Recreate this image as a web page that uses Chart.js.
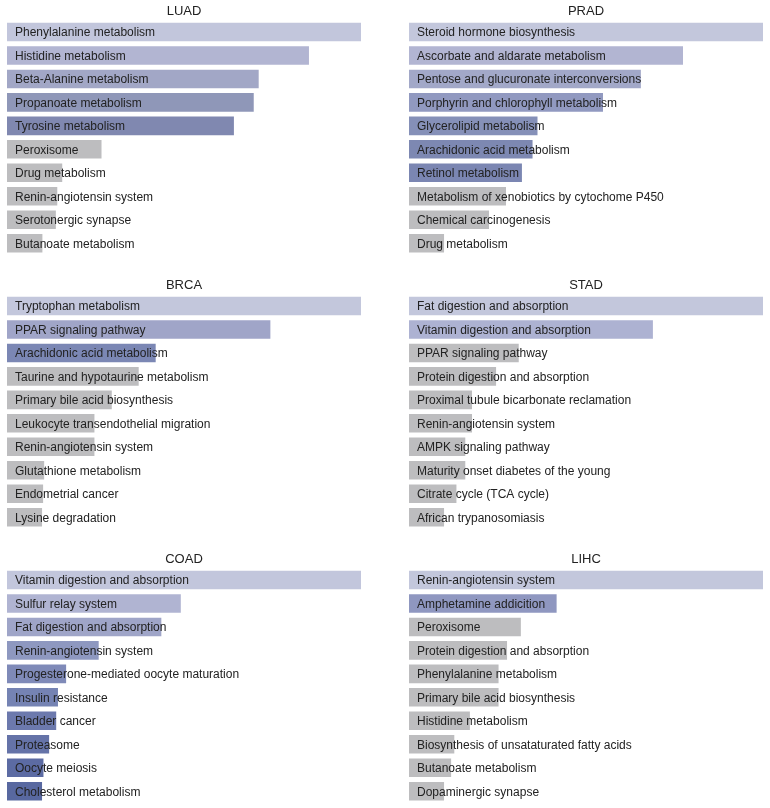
<!DOCTYPE html>
<html>
<head>
<meta charset="utf-8">
<script src="https://cdn.jsdelivr.net/npm/chart.js@4.4.1/dist/chart.umd.min.js"></script>
<style>
    html, body { margin: 0; padding: 0; background: #fff; }
    #wrap { position: relative; width: 770px; height: 808px; }
    .panel { position: absolute; width: 385px; height: 256px; }
</style>
</head>
<body>
<div id="wrap">
    <div class="panel" style="left:0;top:0"><canvas id="c0"></canvas></div>
    <div class="panel" style="left:385px;top:0"><canvas id="c1"></canvas></div>
    <div class="panel" style="left:0;top:274px"><canvas id="c2"></canvas></div>
    <div class="panel" style="left:385px;top:274px"><canvas id="c3"></canvas></div>
    <div class="panel" style="left:0;top:548px"><canvas id="c4"></canvas></div>
    <div class="panel" style="left:385px;top:548px"><canvas id="c5"></canvas></div>
</div>
<script>
// ---------- DATA ----------
const titles = ["LUAD", "PRAD", "BRCA", "STAD", "COAD", "LIHC"];

const luadLabels = ["Phenylalanine metabolism", "Histidine metabolism", "Beta-Alanine metabolism", "Propanoate metabolism", "Tyrosine metabolism", "Peroxisome", "Drug metabolism", "Renin-angiotensin system", "Serotonergic synapse", "Butanoate metabolism"];
const luadValues = [100, 85.3, 71.1, 69.7, 64.1, 26.7, 15.6, 14.2, 13.8, 10.0];

const pradLabels = ["Steroid hormone biosynthesis", "Ascorbate and aldarate metabolism", "Pentose and glucuronate interconversions", "Porphyrin and chlorophyll metabolism", "Glycerolipid metabolism", "Arachidonic acid metabolism", "Retinol metabolism", "Metabolism of xenobiotics by cytochome P450", "Chemical carcinogenesis", "Drug metabolism"];
const pradValues = [100, 77.4, 65.5, 54.8, 36.3, 34.9, 31.9, 27.4, 22.6, 9.9];

const brcaLabels = ["Tryptophan metabolism", "PPAR signaling pathway", "Arachidonic acid metabolism", "Taurine and hypotaurine metabolism", "Primary bile acid biosynthesis", "Leukocyte transendothelial migration", "Renin-angiotensin system", "Glutathione metabolism", "Endometrial cancer", "Lysine degradation"];
const brcaValues = [100, 74.4, 42.0, 37.2, 29.6, 24.7, 24.7, 10.5, 10.2, 9.9];

const stadLabels = ["Fat digestion and absorption", "Vitamin digestion and absorption", "PPAR signaling pathway", "Protein digestion and absorption", "Proximal tubule bicarbonate reclamation", "Renin-angiotensin system", "AMPK signaling pathway", "Maturity onset diabetes of the young", "Citrate cycle (TCA cycle)", "African trypanosomiasis"];
const stadValues = [100, 68.9, 31.0, 24.6, 17.8, 17.8, 15.9, 15.9, 13.4, 9.9];

const coadLabels = ["Vitamin digestion and absorption", "Sulfur relay system", "Fat digestion and absorption", "Renin-angiotensin system", "Progesterone-mediated oocyte maturation", "Insulin resistance", "Bladder cancer", "Proteasome", "Oocyte meiosis", "Cholesterol metabolism"];
const coadValues = [100, 49.1, 43.6, 25.9, 16.7, 14.4, 13.9, 11.9, 10.3, 9.9];

const lihcLabels = ["Renin-angiotensin system", "Amphetamine addicition", "Peroxisome", "Protein digestion and absorption", "Phenylalanine metabolism", "Primary bile acid biosynthesis", "Histidine metabolism", "Biosynthesis of unsataturated fatty acids", "Butanoate metabolism", "Dopaminergic synapse"];
const lihcValues = [100, 41.7, 31.6, 27.7, 25.3, 25.3, 17.2, 12.8, 11.9, 9.9];

const G = "#bdbdbf";
const luadColors = ["#c2c6dc", "#b2b5d2", "#a2a7c6", "#8f97b8", "#8088b0", G, G, G, G, G];
const pradColors = ["#c3c7dc", "#b2b5d2", "#a2a8c8", "#9199c0", "#8590b8", "#7d88b2", "#7b86b2", G, G, G];
const brcaColors = ["#c3c7dc", "#a0a5c8", "#7b87b4", G, G, G, G, G, G, G];
const stadColors = ["#c3c7dc", "#adb2d2", G, G, G, G, G, G, G, G];
const coadColors = ["#c2c6dc", "#b0b4d2", "#9fa5c8", "#8e98c0", "#7f8ab8", "#7583b3", "#6c79ad", "#6573a8", "#5c6ba3", "#5868a0"];
const lihcColors = ["#c3c7dc", "#8f97c0", G, G, G, G, G, G, G, G];

const panels = [
    [luadLabels, luadValues, luadColors],
    [pradLabels, pradValues, pradColors],
    [brcaLabels, brcaValues, brcaColors],
    [stadLabels, stadValues, stadColors],
    [coadLabels, coadValues, coadColors],
    [lihcLabels, lihcValues, lihcColors]
];

// pathway names drawn inside the bars, starting at the zero line
const insideLabels = {
    id: "insideLabels",
    afterDatasetsDraw(chart) {
        const ctx = chart.ctx;
        const meta = chart.getDatasetMeta(0);
        const x0 = chart.scales.x.getPixelForValue(0);
        ctx.save();
        ctx.font = '12px "Liberation Sans", Arial, sans-serif';
        ctx.fillStyle = "#222";
        ctx.textBaseline = "middle";
        meta.data.forEach((bar, i) => {
            ctx.fillText(chart.data.labels[i], x0 + 8, bar.y + 1);
        });
        ctx.restore();
    }
};

panels.forEach(([labels, values, colors], i) => {
    const leftCol = i % 2 === 0;
    new Chart(document.getElementById("c" + i), {
        type: "bar",
        data: {
            labels: labels,
            datasets: [{
                data: values,
                backgroundColor: colors,
                borderWidth: 0,
                categoryPercentage: 1,
                barPercentage: 0.79
            }]
        },
        options: {
            indexAxis: "y",
            responsive: true,
            maintainAspectRatio: false,
            animation: false,
            layout: {
                padding: {
                    left: leftCol ? 7 : 24,
                    right: leftCol ? 24 : 7,
                    top: 1.6,
                    bottom: 1
                }
            },
            plugins: {
                legend: { display: false },
                tooltip: { enabled: false },
                title: {
                    display: true,
                    text: titles[i],
                    color: "#222",
                    font: { family: '"Liberation Sans", Arial, sans-serif', size: 13, weight: "normal" },
                    padding: { top: 2, bottom: 1 }
                }
            },
            scales: {
                x: { display: false, min: 0, max: 100 },
                y: { display: false }
            }
        },
        plugins: [insideLabels]
    });
});
</script>
</body>
</html>
